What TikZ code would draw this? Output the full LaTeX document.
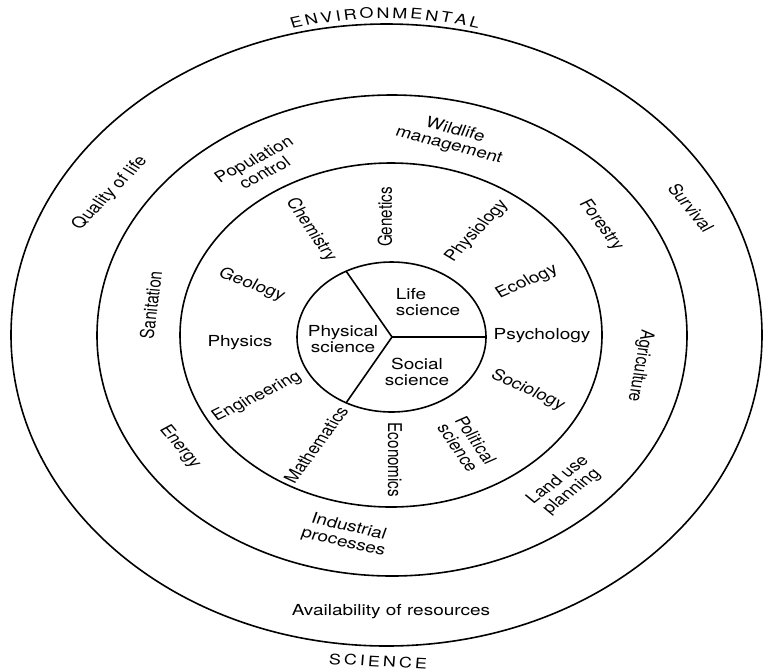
\documentclass[tikz,border=0pt]{standalone}
\usepackage{fontspec}
\setmainfont{TeX Gyre Heros}
\begin{document}
\begin{tikzpicture}[x=0.5pt,y=-0.5pt,
    ring/.style={line width=0.8pt},
    lbl/.style={font=\fontsize{9.5}{10}\selectfont,align=center,inner sep=0pt,yscale=0.8},
    caps/.style={font=\fontsize{9}{9}\selectfont,inner sep=0pt,yscale=0.8}]
            \useasboundingbox (0,0) rectangle (765,671);
            % rings
            \draw[ring] (386.5,335) ellipse[x radius=375.5,y radius=311];
            \draw[ring] (392,335.5) ellipse[x radius=295,y radius=240.5];
            \draw[ring] (391,335) ellipse[x radius=211,y radius=172];
            \draw[ring] (391.5,337) ellipse[x radius=94.5,y radius=75];
            % core split in three
            \coordinate (hub) at (392,337);
            \coordinate (rimR) at (486,337);
            \coordinate (rimL) at (346,271);
            \coordinate (rimS) at (346,403);
            \draw[ring] (hub) -- (rimR) (hub) -- (rimL) (hub) -- (rimS);
            \node[lbl,align=left] (life) at (428,302) {Life\\science};
            \node[lbl] (phys) at (343,339) {Physical\\science};
            \node[lbl] (social) at (417,372) {Social\\science};
            % disciplines
            \node[lbl,rotate=-61] (chem) at (311,230) {Chemistry};
            \node[lbl,rotate=90] (genet) at (385,217) {Genetics};
            \node[lbl,rotate=53] (physio) at (477,231) {Physiology};
            \node[lbl,rotate=-24.5] (geol) at (252,285) {Geology};
            \node[lbl,rotate=29] (ecol) at (527,282) {Ecology};
            \node[lbl] (physics) at (240,343) {Physics};
            \node[lbl] (psych) at (542,336) {Psychology};
            \node[lbl,rotate=32] (engin) at (257,397) {Engineering};
            \node[lbl,rotate=-30] (socio) at (528,390) {Sociology};
            \node[lbl,rotate=59.5] (math) at (316,445) {Mathematics};
            \node[lbl,rotate=-90] (econ) at (395,460) {Economics};
            \node[lbl,rotate=-61] (polit) at (467,444) {Political\\science};
            % problems
            \node[lbl,rotate=33] (popctl) at (259,166) {Population\\control};
            \node[lbl,rotate=-18] (wild) at (452,138) {Wildlife\\management};
            \node[lbl,rotate=-59] (forest) at (601,225) {Forestry};
            \node[lbl,rotate=84] (sanit) at (151,305) {Sanitation};
            \node[lbl,rotate=-98.5] (agri) at (640,366) {Agriculture};
            \node[lbl,rotate=-56] (energy) at (180,447) {Energy};
            \node[lbl,rotate=-16] (indus) at (346,535) {Industrial\\processes};
            \node[lbl,rotate=44] (landuse) at (565,486) {Land use\\planning};
            % outer band
            \node[lbl,rotate=52] (qual) at (110,193) {Quality of life};
            \node[lbl,rotate=-57] (surv) at (691,208) {Survival};
            \node[lbl] (avail) at (391,612) {Availability of resources};
            % spaced capitals
            \foreach \ch/\s [count=\i] in {E/6,N/21.5,V/37,I/48.5,R/60.5,O/77,N/93.5,M/110.5,E/127,N/142.5,T/157.5,A/172,L/186}{
                \pgfmathsetmacro\ang{90+(95.5-\s)*0.1339}
                \node[caps,rotate={1.25*(\ang-90)}] (env\i) at ({385+428*cos(\ang)},{441-428*sin(\ang)}) {\ch};
            }
            \foreach \ch/\s [count=\i] in {S/6,C/21.5,I/33.5,E/45,N/60.5,C/76.5,E/92}{
                \node[caps,rotate=-3.75] (sci\i) at ({329+\s},{659+0.05*\s}) {\ch};
            }
\end{tikzpicture}
\end{document}
